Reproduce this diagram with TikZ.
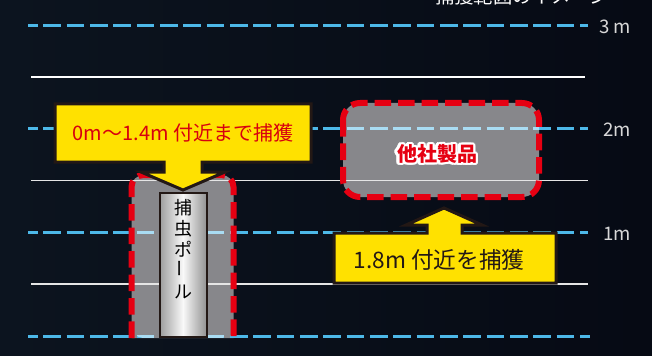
\documentclass[tikz,border=0pt]{standalone}
\usepackage{fontspec}
\setmainfont{Noto Sans CJK JP}

\definecolor{bgdunkel}{HTML}{060A14}
\definecolor{bglinks}{HTML}{0C141F}
\definecolor{linieblau}{HTML}{4DB8E8}
\definecolor{linieblass}{HTML}{A9DCF3}
\definecolor{rotrand}{HTML}{E60012}
\definecolor{textrot}{HTML}{D7000F}
\definecolor{grauflaeche}{HTML}{87878B}
\definecolor{gelb}{HTML}{FFE100}
\definecolor{dunkel}{HTML}{231815}
\definecolor{beschriftung}{HTML}{D8D8D8}
\definecolor{polgrau}{HTML}{9C9C9C}

\tikzset{
    blaulinie/.style={line width=2.25pt, dash pattern=on 13.3pt off 4.2pt, dash phase=6.2pt},
    duennlinie/.style={line width=1pt},
    rotgestrichelt/.style={draw=rotrand, line width=4.5pt, dash pattern=on 12.4pt off 5.2pt},
    sprechblase/.style={fill=gelb, draw=dunkel, line width=2.25pt, line join=miter},
    massstab/.style={text=beschriftung, font=\fontsize{14}{14}\selectfont, inner sep=0pt}
}

\begin{document}
\begin{tikzpicture}[x=0.75pt, y=-0.75pt]
        \useasboundingbox (0, 0) rectangle (652, 356);

        % Hintergrund
        \fill[left color=bglinks, right color=bgdunkel] (0, 0) rectangle (652, 356);

        % graue Flaechen
        \fill[grauflaeche, rounded corners=9pt] (131.5, 338) -- (131.5, 175) -- (233.5, 175) -- (233.5, 338);
        \fill[grauflaeche, rounded corners=12.75pt] (343, 103) rectangle (539, 197);

        % duenne Linien
        \draw[duennlinie, white] (31, 77) -- (585, 77);
        \draw[duennlinie, white!80!gray] (31, 180.5) -- (588, 180.5);
        \draw[duennlinie, white!80!gray] (31, 284) -- (588, 284);

        % Hoehenlinien
        \draw[blaulinie, linieblau] (28.3, 26) -- (588, 26);
        \draw[blaulinie, linieblau] (28.3, 129) -- (588, 129);
        \draw[blaulinie, linieblau] (28.3, 232.5) -- (588, 232.5);
        \draw[blaulinie, linieblau] (28.3, 336) -- (590, 336);

        % Linien ueber den grauen Flaechen
        \begin{scope}
            \clip[rounded corners=9pt] (131.5, 338) -- (131.5, 175) -- (233.5, 175) -- (233.5, 338) -- cycle
                (343, 103) rectangle (539, 197);
            \draw[blaulinie, linieblass] (28.3, 129) -- (588, 129);
            \draw[blaulinie, linieblass] (28.3, 232.5) -- (588, 232.5);
            \draw[blaulinie, linieblass] (28.3, 336) -- (590, 336);
        \end{scope}

        % rote Raender
        \draw[rotgestrichelt, rounded corners=9pt] (131.5, 338) -- (131.5, 175) -- (233.5, 175) -- (233.5, 338);
        \draw[rotgestrichelt, rounded corners=12.75pt] (343, 103) rectangle (539, 197);

        % Pole
        \draw[dunkel, line width=1.5pt, left color=polgrau, right color=polgrau!110, middle color=white!95!gray] (159.5, 193) rectangle (206.5, 337);
        \node[font=\fontsize{13.5}{15.75}\selectfont, align=center, inner sep=0pt, text=black] (polname) at (183, 249)
            {捕\\虫\\ポ\\\rotatebox{90}{ー}\\ル};

        % Sprechblase oben
        \draw[sprechblase] (55, 104) -- (311, 104) -- (311, 162) -- (202, 162) -- (202, 172) -- (225, 172) -- (183, 190)
            -- (141, 172) -- (164, 172) -- (164, 162) -- (55, 162) -- cycle;
        \node[text=textrot, font=\fontsize{15}{15}\selectfont] (hinweisoben) at (183, 133) {0m～1.4m 付近まで捕獲};

        % Sprechblase unten
        \draw[sprechblase] (334, 233) -- (427, 233) -- (427, 225) -- (406, 225) -- (444, 208) -- (482, 225)
            -- (462, 225) -- (462, 233) -- (556, 233) -- (556, 283) -- (334, 283) -- cycle;
        \node[text=dunkel, font=\fontsize{17}{17}\selectfont] (hinweisunten) at (439, 260) {1.8m 付近を捕獲};

        % Fremdprodukt
        \foreach \w in {0, 30, ..., 330}
            \node[text=white, font=\fontsize{15}{15}\selectfont\bfseries, xshift={1.8pt*cos(\w)}, yshift={1.8pt*sin(\w)}] (umriss\w) at (437, 154) {他社製品};
        \node[text=rotrand, font=\fontsize{15}{15}\selectfont\bfseries] (fremd) at (437, 154) {他社製品};

        % Beschriftungen
        \node[massstab] (m3) at (615, 27) {3 m};
        \node[massstab] (m2) at (617, 130) {2m};
        \node[massstab] (m1) at (617, 233.5) {1m};
        \node[text=white, font=\fontsize{14.5}{14.5}\selectfont] (titel) at (522, -4) {捕獲範囲のイメージ};

    \end{tikzpicture}
\end{document}
